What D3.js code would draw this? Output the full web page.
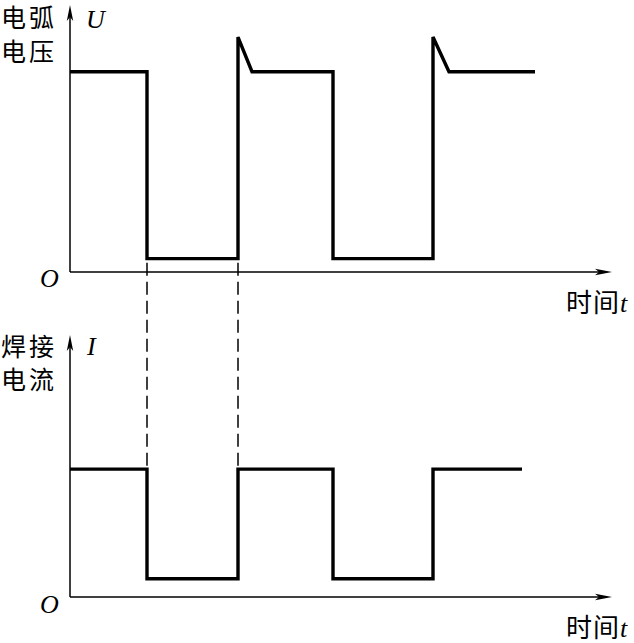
<!DOCTYPE html>
<html><head><meta charset="utf-8">
<script src="https://cdn.jsdelivr.net/npm/d3@7"></script>
<style>body{margin:0;background:#fff}svg{display:block}</style>
</head><body>
<script>
// data
const voltT = [0, 0.77, 0.77, 1.68, 1.68, 1.82, 2.63, 2.63, 3.63, 3.63, 3.79, 4.65];
const voltU = [7.5, 7.5, 0.5, 0.5, 8.8, 7.5, 7.5, 0.5, 0.5, 8.8, 7.5, 7.5];
const currT = [0, 0.77, 0.77, 1.68, 1.68, 2.63, 2.63, 3.63, 3.63, 4.52];
const currI = [4.9, 4.9, 0.7, 0.7, 4.9, 4.9, 0.7, 0.7, 4.9, 4.9];
const guideT = [0.77, 1.68];
const labels = {u1: "电弧", u2: "电压", uSym: "U", i1: "焊接", i2: "电流", iSym: "I", origin: "O", time: "时间", tSym: "t"};

const W = 634, H = 643;
const svg = d3.select("body").append("svg").attr("width", W).attr("height", H);

const x = d3.scaleLinear().domain([0, 5.4]).range([70, 610]);
const yU = d3.scaleLinear().domain([0, 10]).range([272, 5]);
const yI = d3.scaleLinear().domain([0, 10]).range([597, 336]);

function axes(y, topY) {
  const g = svg.append("g");
  const y0 = y(0);
  g.append("line").attr("x1", x(0)).attr("x2", x(0)).attr("y1", y0).attr("y2", topY + 8)
    .attr("stroke", "#000").attr("stroke-width", 1.5);
  g.append("line").attr("x1", x(0)).attr("x2", 603).attr("y1", y0).attr("y2", y0)
    .attr("stroke", "#000").attr("stroke-width", 1.5);
  g.append("path").attr("d", `M${x(0)},${topY} L${x(0)+3.2},${topY+16} L${x(0)},${topY+12} L${x(0)-3.2},${topY+16} Z`).attr("fill", "#000");
  g.append("path").attr("d", `M612,${y0} L595,${y0-3.2} L599,${y0} L595,${y0+3.2} Z`).attr("fill", "#000");
}
axes(yU, 5);
axes(yI, 335);

svg.selectAll("line.guide").data(guideT).enter().append("line").attr("class", "guide")
  .attr("x1", d => x(d)).attr("x2", d => x(d))
  .attr("y1", yU(0.5) + 4).attr("y2", yI(4.9))
  .attr("stroke", "#000").attr("stroke-width", 1.5).attr("stroke-dasharray", "13,6");

const lineU = d3.line().x((d, i) => x(voltT[i])).y(d => yU(d));
svg.append("path").attr("d", lineU(voltU)).attr("fill", "none").attr("stroke", "#000")
  .attr("stroke-width", 3.4).attr("stroke-linejoin", "miter").attr("stroke-miterlimit", 4);
const lineI = d3.line().x((d, i) => x(currT[i])).y(d => yI(d));
svg.append("path").attr("d", lineI(currI)).attr("fill", "none").attr("stroke", "#000")
  .attr("stroke-width", 3.4).attr("stroke-linejoin", "miter");

const cjk = "'Noto Sans CJK SC', sans-serif";
const serif = "'Liberation Serif', 'DejaVu Serif', serif";
function txt(s, xx, yy, size, fam, italic, ls) {
  svg.append("text").attr("x", xx).attr("y", yy).attr("font-size", size).attr("font-family", fam)
    .attr("font-style", italic ? "italic" : "normal").attr("letter-spacing", ls || 0).attr("fill", "#000").text(s);
}
txt(labels.u1, 1, 27, 25, cjk, false, 3);
txt(labels.u2, 1, 61, 25, cjk, false, 3);
txt(labels.uSym, 86, 28, 26, serif, true);
txt(labels.i1, 1, 356, 25, cjk, false, 3);
txt(labels.i2, 1, 389, 25, cjk, false, 3);
txt(labels.iSym, 87, 355, 26, serif, true);
txt(labels.origin, 40, 287, 26, serif, true);
txt(labels.origin, 40, 613, 26, serif, true);
[312, 637].forEach(yy => {
  svg.append("text").attr("x", 566).attr("y", yy).attr("font-size", 26).attr("font-family", cjk).attr("fill","#000")
    .attr("letter-spacing", 1)
    .text(labels.time).append("tspan").attr("font-family", serif).attr("font-style", "italic").attr("letter-spacing", 0).text(labels.tSym);
});
</script>
</body></html>
